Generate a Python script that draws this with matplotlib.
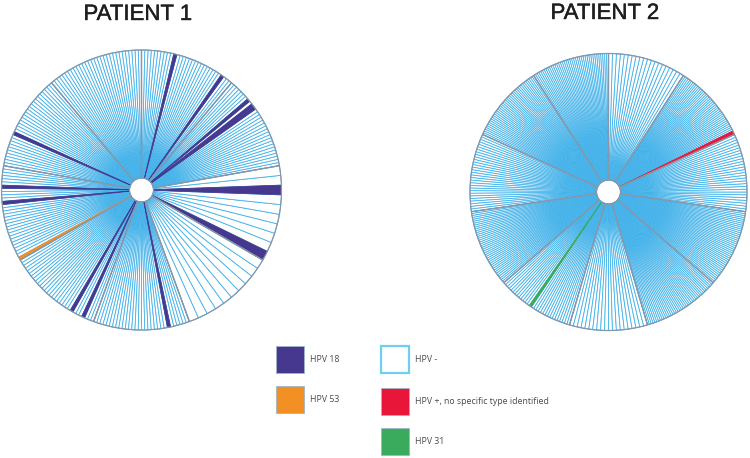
import matplotlib
matplotlib.use("Agg")
import matplotlib.pyplot as plt
import matplotlib.patheffects as pe
from matplotlib.patches import Rectangle

W, H = 750, 458

# ---------------- data ----------------
# number of samples (slices) in each sector, sectors drawn counter-clockwise
p1_sector_counts = [30, 30, 30, 30, 30, 30, 30, 10, 10]
p1_start_angle = 10
# (sector index, slice index) of positive samples
p1_hpv18 = [(0, 19), (0, 20), (0, 22), (1, 3), (1, 19), (3, 19), (4, 6), (4, 11),
            (5, 22), (5, 26), (6, 23), (8, 0), (8, 7)]
p1_hpv53 = [(4, 29)]

p2_sector_counts = [40, 40, 30, 40, 30, 20, 40, 40, 28, 40, 20]
p2_start_angle = 90
p2_hpv_unspec = [(9, 0), (9, 1)]
p2_hpv31 = [(4, 13)]

legend_col1 = ["HPV 18", "HPV 53"]
legend_col2 = ["HPV -", "HPV +, no specific type identified", "HPV 31"]

fills = {
    "HPV -": "white",
    "HPV 18": "#46388e",
    "HPV 53": "#f29023",
    "HPV +, no specific type identified": "#e8173a",
    "HPV 31": "#3aaa5c",
}
line_blue = "#45b3ea"
divider = "#8597ab"

# ---------------- helpers ----------------
def build(counts, hits):
    vals, cats = [], []
    for si, n in enumerate(counts):
        for j in range(n):
            vals.append(1.0 / n)
            cat = "HPV -"
            for c, lst in hits.items():
                if (si, j) in lst:
                    cat = c
            cats.append(cat)
    return vals, cats


def draw_patient(ax, counts, hits, start, hole):
    vals, cats = build(counts, hits)
    wedges, _ = ax.pie(vals, startangle=start, counterclock=True, radius=1,
                       colors=[fills[c] for c in cats],
                       wedgeprops=dict(width=1 - hole, linewidth=0.6,
                                       edgecolor=line_blue))
    for w, c in zip(wedges, cats):
        if c != "HPV -":
            w.set_edgecolor(fills[c])
            w.set_linewidth(0.5)
            w.set_zorder(3)
    sec, _ = ax.pie([1] * len(counts), startangle=start, counterclock=True,
                    radius=1, wedgeprops=dict(width=1 - hole, fill=False,
                                              edgecolor=divider, linewidth=0.9))
    for s in sec:
        s.set_zorder(4)
    ax.set_xlim(-1.01, 1.01)
    ax.set_ylim(-1.01, 1.01)
    ax.set_aspect("equal")
    ax.axis("off")


fig = plt.figure(figsize=(W / 100, H / 100), dpi=100)

# Patient 1 : center (141.5, 190), r 140
cx, cy, r = 141.5, 190, 140
ax1 = fig.add_axes([(cx - r * 1.01) / W, (H - cy - r * 1.01) / H, 2 * r * 1.01 / W, 2 * r * 1.01 / H])
draw_patient(ax1, p1_sector_counts, {"HPV 18": p1_hpv18, "HPV 53": p1_hpv53},
             p1_start_angle, 12 / 140)

# Patient 2 : center (608.5, 192), r 138.5
cx, cy, r = 608.5, 192, 138.5
ax2 = fig.add_axes([(cx - r * 1.01) / W, (H - cy - r * 1.01) / H, 2 * r * 1.01 / W, 2 * r * 1.01 / H])
draw_patient(ax2, p2_sector_counts,
             {"HPV +, no specific type identified": p2_hpv_unspec, "HPV 31": p2_hpv31},
             p2_start_angle, 12 / 138.5)

title_font = ["Liberation Sans", "DejaVu Sans"]
stroke = [pe.withStroke(linewidth=0.3, foreground="#1e1e1e")]
fig.text(138 / W, 1 - 14.5 / H, "PATIENT 1", ha="center", va="center",
         fontsize=16, color="#1e1e1e", family=title_font, path_effects=stroke)
fig.text(605 / W, 1 - 13.5 / H, "PATIENT 2", ha="center", va="center",
         fontsize=16, color="#1e1e1e", family=title_font, path_effects=stroke)

# ---------------- legend ----------------
box_w, box_h = 28, 27
def legend_item(x, y_top, label):
    col = fills[label]
    edge = "#6dcff6" if label == "HPV -" else "#9fb6c8"
    lw = 1.6 if label == "HPV -" else 0.6
    fig.add_artist(Rectangle((x / W, 1 - (y_top + box_h) / H), box_w / W, box_h / H,
                             transform=fig.transFigure, facecolor=col,
                             edgecolor=edge, linewidth=lw))
    fig.text((x + box_w + 6) / W, 1 - (y_top + box_h / 2) / H, label,
             ha="left", va="center", fontsize=6.3, color="#4a4a4a",
             family=["Open Sans", "DejaVu Sans"])

row_tops = [346, 386, 428]
for i, lab in enumerate(legend_col1):
    legend_item(276, row_tops[i], lab)
for i, lab in enumerate(legend_col2):
    legend_item(381, row_tops[i] + (2 if i == 1 else 0), lab)

fig.savefig("out.png", dpi=100)
